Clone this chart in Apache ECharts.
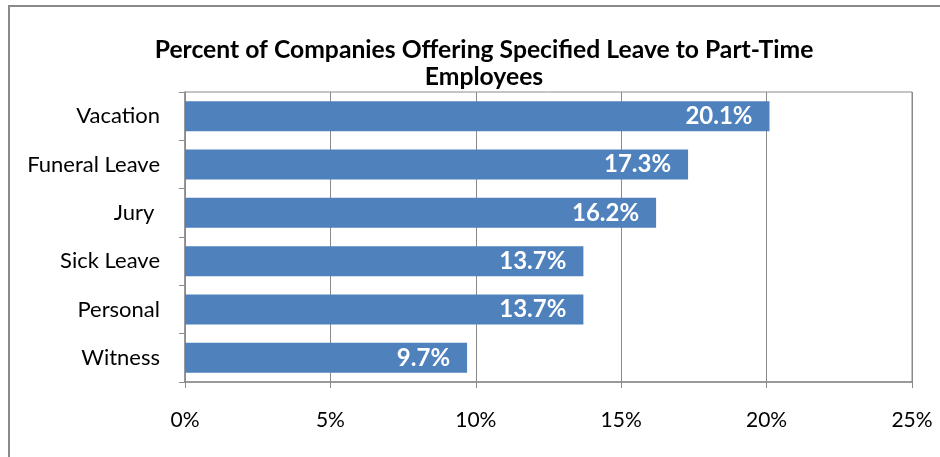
<!DOCTYPE html>
<html><head><meta charset="utf-8">
<script src="https://cdn.jsdelivr.net/npm/echarts@6/dist/echarts.min.js"></script>
<style>html,body{margin:0;padding:0;background:#fff;overflow:hidden}#c{width:940px;height:457px}</style>
</head><body><div id="c"></div>
<script>
const categories = ['Vacation', 'Funeral Leave', 'Jury ', 'Sick Leave', 'Personal', 'Witness'];
const values = [20.1, 17.3, 16.2, 13.7, 13.7, 9.7];
const titleText = 'Percent of Companies Offering Specified Leave to Part-Time\nEmployees';
const FONT = 'Lato';
const chart = echarts.init(document.getElementById('c'), null, {renderer: 'canvas'});
chart.setOption({
  animation: false,
  backgroundColor: '#fff',
  graphic: [{type: 'rect', shape: {x: 9, y: 6, width: 1000, height: 1000}, style: {fill: 'none', stroke: '#898989', lineWidth: 2}, silent: true}],
  title: {
    text: titleText, left: 479, top: 32, textAlign: 'center',
    textStyle: {fontFamily: FONT, fontWeight: 'bold', fontSize: 24.7, color: '#000', lineHeight: 27}
  },
  grid: {left: 185, right: 28, top: 92, bottom: 75, show: true, borderColor: '#8a8a8a', borderWidth: 1},
  xAxis: {
    type: 'value', min: 0, max: 25, interval: 5,
    axisLine: {show: true, lineStyle: {color: '#8a8a8a', width: 1.5}},
    axisTick: {show: true, length: 6, lineStyle: {color: '#8a8a8a'}},
    splitLine: {show: true, lineStyle: {color: '#8a8a8a', width: 1}},
    axisLabel: {formatter: '{value}%', fontFamily: FONT, fontSize: 21, color: '#000', margin: 28}
  },
  yAxis: {
    type: 'category', data: categories, inverse: true,
    axisLine: {show: true, lineStyle: {color: '#8a8a8a', width: 1.5}},
    axisTick: {show: true, length: 6, lineStyle: {color: '#8a8a8a'}},
    axisLabel: {fontFamily: FONT, fontSize: 22, color: '#000', margin: 25}
  },
  series: [{
    type: 'bar', data: values, barCategoryGap: '38%',
    itemStyle: {color: '#4F81BD'},
    label: {show: true, position: 'insideRight', distance: 17,
      formatter: p => p.value.toFixed(1) + '%',
      fontFamily: FONT, fontWeight: 'bold', fontSize: 24, color: '#fff'}
  }]
});
</script></body></html>
